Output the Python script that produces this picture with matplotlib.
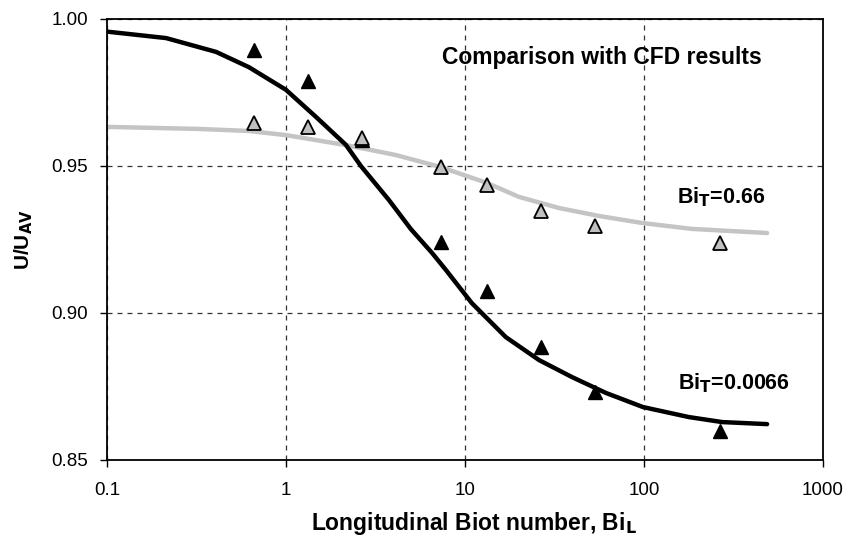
import matplotlib.pyplot as plt
from matplotlib.ticker import FixedLocator, FixedFormatter, NullLocator

plt.rcParams['font.family'] = ['Liberation Sans', 'DejaVu Sans']

# CFD points (Bi_L, U/U_AV)
bi_l = [0.66, 1.33, 2.66, 7.3, 13.3, 26.6, 53, 266]
cfd_low = [0.9895, 0.979, 0.959, 0.924, 0.9075, 0.8884, 0.873, 0.860]   # Bi_T = 0.0066
cfd_high = [0.9646, 0.9633, 0.9595, 0.9497, 0.9435, 0.9347, 0.9296, 0.9238]  # Bi_T = 0.66

# model curves
low_x = [0.1, 0.214, 0.407, 0.621, 1.0, 1.47, 2.16, 2.62, 3.76, 4.99, 6.53, 7.83,
         10.9, 16.9, 25.9, 39.6, 61.3, 98.7, 178, 273, 487]
low_y = [0.9957, 0.9935, 0.9888, 0.9836, 0.9759, 0.9667, 0.9572, 0.950, 0.9384,
         0.9285, 0.9205, 0.9146, 0.9034, 0.8918, 0.884, 0.8782, 0.8728, 0.868,
         0.8646, 0.8629, 0.8622]
high_x = [0.1, 0.327, 0.621, 1.0, 2.16, 3.3, 4.12, 7.25, 13.3, 20, 33.5, 56, 97.8,
          185, 487]
high_y = [0.9633, 0.9626, 0.9619, 0.9605, 0.9571, 0.9549, 0.9537, 0.9497, 0.9442,
          0.9395, 0.9357, 0.933, 0.9306, 0.9286, 0.9272]

xticks = [0.1, 1, 10, 100, 1000]
xtick_labels = ['0.1', '1', '10', '100', '1000']
yticks = [0.85, 0.90, 0.95, 1.00]
ytick_labels = ['0.85', '0.90', '0.95', '1.00']

fig = plt.figure(figsize=(8.45, 5.36), dpi=100, facecolor='w')
ax = fig.add_axes([0.1266, 0.1418, 0.8474, 0.8228])

ax.plot(low_x, low_y, color='black', lw=3.2, solid_capstyle='round',
        solid_joinstyle='round', zorder=3)
ax.plot(high_x, high_y, color='#c4c4c4', lw=3.2, solid_capstyle='round',
        solid_joinstyle='round', zorder=2)
ax.plot(bi_l, cfd_low, ls='none', marker='^', ms=10.5, mfc='black', mec='black', zorder=4)
ax.plot(bi_l, cfd_high, ls='none', marker='^', ms=10.5, mfc='#c0c0c0', mec='black',
        mew=1.3, zorder=5)

ax.set_xscale('log')
ax.set_xlim(0.1, 1000)
ax.set_ylim(0.85, 1.00)
ax.xaxis.set_major_locator(FixedLocator(xticks))
ax.xaxis.set_major_formatter(FixedFormatter(xtick_labels))
ax.xaxis.set_minor_locator(NullLocator())
ax.set_yticks(yticks)
ax.set_yticklabels(ytick_labels)
ax.tick_params(direction='out', length=5, width=1, labelsize=13.5, pad=8.5)
ax.tick_params(axis='x', pad=11)
ax.grid(True, which='major', color='#333333', ls=(0, (4, 4)), lw=0.9)
for s in ax.spines.values():
    s.set_linewidth(1.3)

ax.set_ylabel('U/U$_{\\mathbf{AV}}$', fontsize=15, fontweight='bold')
ax.yaxis.set_label_coords(-0.116, 0.5)
ax.yaxis.label.set_va('center')
ax.set_xlabel('Longitudinal Biot number, Bi$_{\\mathbf{L}}$', fontsize=16.5,
              fontweight='bold')
ax.xaxis.set_label_coords(0.513, -0.159)
ax.xaxis.label.set_va('baseline')

ax.text(0.691, 0.912, 'Comparison with CFD results', transform=ax.transAxes,
        fontsize=16.5, fontweight='bold', ha='center', va='center')
ax.text(0.858, 0.596, 'Bi$_{\\mathbf{T}}$=0.66', transform=ax.transAxes,
        fontsize=15.5, fontweight='bold', ha='center', va='center')
ax.text(0.876, 0.175, 'Bi$_{\\mathbf{T}}$=0.0066', transform=ax.transAxes,
        fontsize=15.5, fontweight='bold', ha='center', va='center')

fig.savefig('out.png', dpi=100, facecolor='w')
